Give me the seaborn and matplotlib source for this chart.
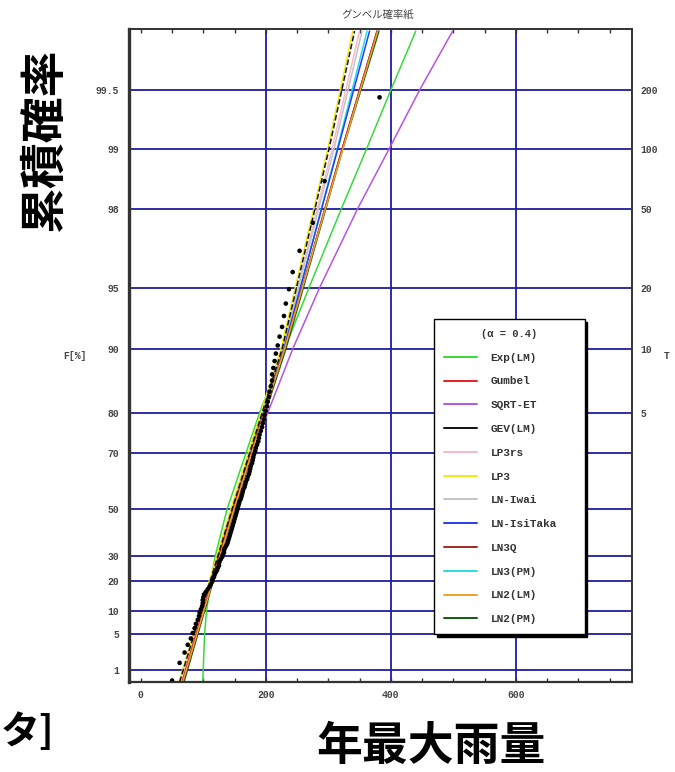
import numpy as np
import pandas as pd
import matplotlib
matplotlib.use("Agg")
import matplotlib.pyplot as plt
import seaborn as sns
from matplotlib.lines import Line2D

# ---------------- data ----------------
# F levels [%] at which each fitted curve's quantile was read
F_CLUSTER = [0.5, 50, 90, 99, 99.75]
q_lp3      = [61, 144, 224, 299, 339]
q_gev      = [62, 146, 226, 301, 342]
q_lp3rs    = [64, 146, 227, 306, 350]
q_lniwai   = [66, 147, 227, 309, 354]
q_ln3pm    = [67, 147, 229, 314, 362]
q_lnisitak = [67, 147, 229, 315, 366]
q_gumbel   = [66, 147, 230, 322, 378]
q_ln3q     = [67, 149, 230, 322, 378]
q_ln2lm    = [67, 149, 230, 323, 379]
q_ln2pm    = [69, 149, 232, 323, 381]

F_EXP = [0.5, 5, 10, 20, 30, 50, 80, 90, 95, 98, 99, 99.5, 99.75]
q_exp = [99, 102, 105, 112, 119, 138, 190, 230, 269, 321, 361, 400, 440]

F_SQRT = [0.5, 10, 30, 50, 70, 80, 90, 95, 98, 99, 99.5, 99.75]
q_sqrt = [67, 99, 123, 149, 179, 203, 243, 286, 347, 397, 446, 499]

# observed annual maximum rainfall (sorted ascending)
rain = [50, 62, 70, 75, 80, 83, 86, 88, 91, 93, 94, 96, 98, 99, 99, 100, 101,
        104, 107, 110, 112, 114, 115, 117, 118, 120, 122, 123, 125, 125, 126,
        128, 130, 131, 133, 133, 134, 136, 138, 139, 140, 141, 142, 143, 144,
        145, 146, 147, 148, 149, 150, 151, 152, 153, 154, 155, 156, 157, 158,
        160, 161, 162, 163, 164, 166, 167, 168, 170, 171, 173, 174, 175, 176,
        178, 179, 180, 181, 183, 184, 186, 188, 189, 190, 192, 194, 195, 197,
        198, 200, 202, 203, 205, 206, 208, 210, 210, 212, 214, 216, 219, 222,
        226, 229, 232, 237, 243, 254, 275, 294, 382]
ALPHA = 0.4

F_ticks = [1, 5, 10, 20, 30, 50, 70, 80, 90, 95, 98, 99, 99.5]
F_labels = ["1", "5", "10", "20", "30", "50", "70", "80", "90", "95", "98", "99", "99.5"]
T_ticks = [80, 90, 95, 98, 99, 99.5]
T_labels = ["5", "10", "20", "50", "100", "200"]
x_ticks = [0, 200, 400, 600]

models = ["Exp(LM)", "Gumbel", "SQRT-ET", "GEV(LM)", "LP3rs", "LP3", "LN-Iwai",
          "LN-IsiTaka", "LN3Q", "LN3(PM)", "LN2(LM)", "LN2(PM)"]
colors = {"Exp(LM)": "#3ad83a", "Gumbel": "#e82020", "SQRT-ET": "#b455e0",
          "GEV(LM)": "#111111", "LP3rs": "#f7b8c8", "LP3": "#f2ea10",
          "LN-Iwai": "#c4c4c4", "LN-IsiTaka": "#2a3cf0", "LN3Q": "#a02a22",
          "LN3(PM)": "#28dcec", "LN2(LM)": "#f0a028", "LN2(PM)": "#0b5e10"}

curves = {"Exp(LM)": (F_EXP, q_exp), "SQRT-ET": (F_SQRT, q_sqrt),
          "Gumbel": (F_CLUSTER, q_gumbel), "GEV(LM)": (F_CLUSTER, q_gev),
          "LP3rs": (F_CLUSTER, q_lp3rs), "LP3": (F_CLUSTER, q_lp3),
          "LN-Iwai": (F_CLUSTER, q_lniwai), "LN-IsiTaka": (F_CLUSTER, q_lnisitak),
          "LN3Q": (F_CLUSTER, q_ln3q), "LN3(PM)": (F_CLUSTER, q_ln3pm),
          "LN2(LM)": (F_CLUSTER, q_ln2lm), "LN2(PM)": (F_CLUSTER, q_ln2pm)}

# ---------------- figure ----------------
sns.set_theme(style="white")
plt.rcParams['font.family'] = ['Liberation Mono', 'DejaVu Sans', 'Noto Sans CJK JP']

W, H = 675, 772
fig = plt.figure(figsize=(W / 100, H / 100), dpi=100)
ax = fig.add_axes([129 / W, 1 - 682 / H, 503 / W, 653 / H])


def fwd(p):
    p = np.clip(np.asarray(p, dtype=float) / 100.0, 1e-9, 1 - 1e-9)
    return -np.log(-np.log(p))


def inv(y):
    return 100.0 * np.exp(-np.exp(-np.asarray(y, dtype=float)))


ax.set_yscale('function', functions=(fwd, inv))
ax.set_ylim(0.499, 99.756)
ax.set_xlim(-19, 786)

navy = "#1e1e9e"
for f in F_ticks:
    ax.axhline(f, color=navy, lw=1.3, zorder=0.5)
for xv in [200, 400, 600]:
    ax.axvline(xv, color=navy, lw=1.3, zorder=0.5)

draw_order = ["Exp(LM)", "SQRT-ET", "LP3rs", "LN-Iwai", "LN3(PM)", "LN-IsiTaka",
              "Gumbel", "LN2(PM)", "LN3Q", "LN2(LM)", "LP3", "GEV(LM)"]
for m in draw_order:
    Fs, qs = curves[m]
    d = pd.DataFrame({"x": qs, "F": Fs})
    sns.lineplot(data=d, x="x", y="F", sort=False, estimator=None, ax=ax,
                 color=colors[m], lw=1.1, zorder=2,
                 linestyle="--" if m == "GEV(LM)" else "-")

N = len(rain)
pos = [100.0 * (i + 1 - ALPHA) / (N + 1 - 2 * ALPHA) for i in range(N)]
sns.scatterplot(x=rain, y=pos, ax=ax, color="black", s=11, edgecolor="none",
                zorder=4, legend=False)

# ticks
ax.set_xticks(x_ticks)
ax.set_xticks(np.arange(0, 786, 50), minor=True)
ax.set_xticklabels([str(v) for v in x_ticks])
ax.tick_params(axis='x', which='both', direction='in', top=True, bottom=True,
               length=3, width=1, color="#333", pad=6, labelsize=7)
ax.set_yticks(F_ticks)
ax.set_yticklabels(F_labels)
ax.yaxis.set_minor_locator(matplotlib.ticker.NullLocator())
ax.tick_params(axis='y', which='both', length=0, pad=7, labelsize=7)
for lab in ax.get_xticklabels() + ax.get_yticklabels():
    lab.set_fontweight('bold')
    lab.set_color('#444')
ax.set_xlabel("")
ax.set_ylabel("")

ax2 = ax.twinx()
ax2.set_yscale('function', functions=(fwd, inv))
ax2.set_ylim(ax.get_ylim())
ax2.set_yticks(T_ticks)
ax2.set_yticklabels(T_labels)
ax2.yaxis.set_minor_locator(matplotlib.ticker.NullLocator())
ax2.tick_params(axis='y', which='both', length=0, pad=6, labelsize=7)
for lab in ax2.get_yticklabels():
    lab.set_fontweight('bold')
    lab.set_color('#444')
ax2.grid(False)

for a in (ax, ax2):
    for s in a.spines.values():
        s.set_color("#333")
        s.set_linewidth(1.2)
ax.spines['left'].set_linewidth(2.4)
ax.spines['bottom'].set_linewidth(1.6)

# legend
handles = [Line2D([0], [0], color=colors[m], lw=1.4) for m in models]
leg = ax.legend(handles, models, title="(\u03b1 = 0.4)", loc="upper left",
                bbox_to_anchor=(0.606, 0.556, 0.300, 0.0), mode="expand",
                frameon=True, fancybox=False,
                edgecolor="black", facecolor="white", framealpha=1,
                shadow={"color": "black", "alpha": 1},
                prop={"family": "Liberation Mono", "size": 8, "weight": "bold"},
                title_fontproperties={"family": "Liberation Mono", "size": 7.5,
                                      "weight": "bold"},
                handlelength=3.0, handletextpad=1.2, labelspacing=1.24,
                borderpad=0.9, borderaxespad=0)
leg.get_frame().set_linewidth(1.0)
for t in leg.get_texts():
    t.set_color("#333")
leg.get_title().set_color("#333")
leg.set_zorder(10)

# labels and overlaid texts
fig.text(378 / W, 1 - 15 / H, "グンベル確率紙", family=['Noto Sans CJK JP'],
         fontsize=7.5, color="#444", ha="center", va="center")
fig.text(75 / W, 1 - 356 / H, "F[%]", fontsize=7, fontweight='bold',
         color="#444", ha="center", va="center")
fig.text(667 / W, 1 - 356 / H, "T", fontsize=7, fontweight='bold',
         color="#444", ha="center", va="center")
fig.text(45 / W, 1 - 140 / H, "累積確率", family=['Noto Sans CJK JP'],
         fontsize=33, fontweight='bold', rotation=90, ha="center", va="center",
         color="black")
fig.text(431 / W, 1 - 747 / H, "年最大雨量", family=['Noto Sans CJK JP'],
         fontsize=33, fontweight='bold', ha="center", va="center", color="black")
fig.text(1 / W, 1 - 733 / H, "タ]", family=['Noto Sans CJK JP'],
         fontsize=28, fontweight='bold', ha="left", va="center", color="black")

fig.savefig("out.png", dpi=100, facecolor="white")
